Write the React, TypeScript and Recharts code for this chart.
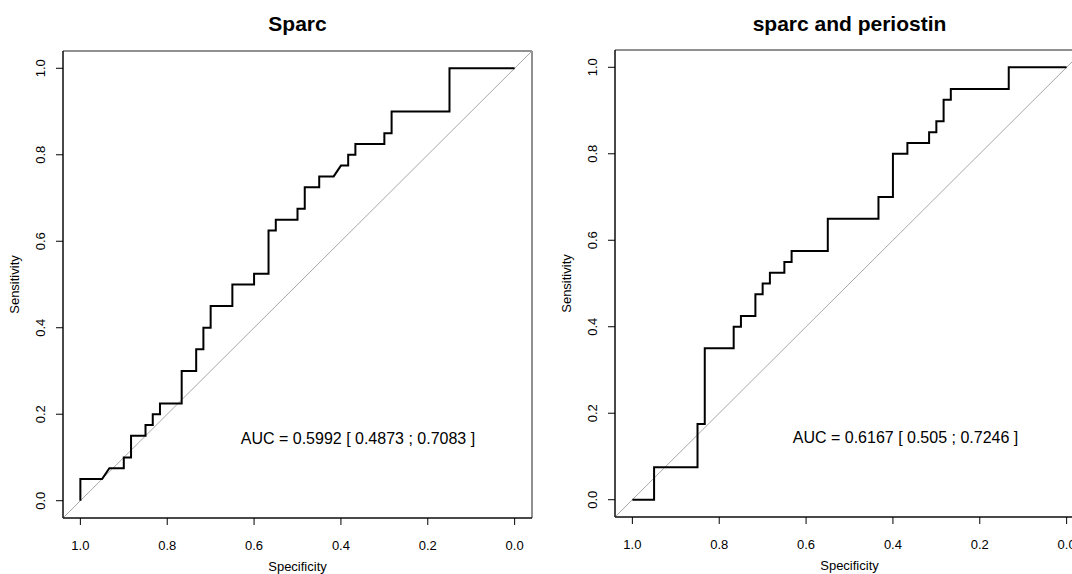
import React from "react";
import {
  LineChart,
  Line,
  XAxis,
  YAxis,
  ReferenceLine,
  ReferenceArea,
  ReferenceDot,
} from "recharts";

// ROC step points: specificity (x, reversed) and sensitivity (y)
const sparcSpec = [1, 1, 0.95, 0.9333, 0.9, 0.9, 0.8833, 0.8833, 0.85, 0.85, 0.8333, 0.8333, 0.8167, 0.8167, 0.7667, 0.7667, 0.7333, 0.7333, 0.7167, 0.7167, 0.7, 0.7, 0.65, 0.65, 0.6, 0.6, 0.5667, 0.5667, 0.55, 0.55, 0.5, 0.5, 0.4833, 0.4833, 0.45, 0.45, 0.4167, 0.4, 0.3833, 0.3833, 0.3667, 0.3667, 0.3, 0.3, 0.2833, 0.2833, 0.15, 0.15, 0];
const sparcSens = [0, 0.05, 0.05, 0.075, 0.075, 0.1, 0.1, 0.15, 0.15, 0.175, 0.175, 0.2, 0.2, 0.225, 0.225, 0.3, 0.3, 0.35, 0.35, 0.4, 0.4, 0.45, 0.45, 0.5, 0.5, 0.525, 0.525, 0.625, 0.625, 0.65, 0.65, 0.675, 0.675, 0.725, 0.725, 0.75, 0.75, 0.775, 0.775, 0.8, 0.8, 0.825, 0.825, 0.85, 0.85, 0.9, 0.9, 1, 1];

const bothSpec = [1, 0.95, 0.95, 0.85, 0.85, 0.8333, 0.8333, 0.7667, 0.7667, 0.75, 0.75, 0.7167, 0.7167, 0.7, 0.7, 0.6833, 0.6833, 0.65, 0.65, 0.6333, 0.6333, 0.55, 0.55, 0.4333, 0.4333, 0.4, 0.4, 0.3667, 0.3667, 0.3167, 0.3167, 0.3, 0.3, 0.2833, 0.2833, 0.2667, 0.2667, 0.1333, 0.1333, 0];
const bothSens = [0, 0, 0.075, 0.075, 0.175, 0.175, 0.35, 0.35, 0.4, 0.4, 0.425, 0.425, 0.475, 0.475, 0.5, 0.5, 0.525, 0.525, 0.55, 0.55, 0.575, 0.575, 0.65, 0.65, 0.7, 0.7, 0.8, 0.8, 0.825, 0.825, 0.85, 0.85, 0.875, 0.875, 0.925, 0.925, 0.95, 0.95, 1, 1];

const TICKS = [0, 0.2, 0.4, 0.6, 0.8, 1];
const TITLES = ["Sparc", "sparc and periostin"];
const AUC_TEXT = [
  "AUC = 0.5992 [ 0.4873 ; 0.7083 ]",
  "AUC = 0.6167 [ 0.505 ; 0.7246 ]",
];

const FONT = '"Liberation Sans", Arial, Helvetica, sans-serif';
const DOMAIN: [number, number] = [-0.04, 1.04];

const toRows = (spec: number[], sens: number[]) =>
  spec.map((s, i) => ({ spec: s, sens: sens[i] }));

function YTick(props: any) {
  const { x, y, payload } = props;
  const tx = x - 11;
  return (
    <text
      x={tx}
      y={y}
      transform={`rotate(-90 ${tx} ${y})`}
      textAnchor="middle"
      fontSize={13}
      fontFamily={FONT}
      fill="#000"
    >
      {Number(payload.value).toFixed(1)}
    </text>
  );
}

function RocPanel({
  spec,
  sens,
  title,
  auc,
  left,
  top,
}: {
  spec: number[];
  sens: number[];
  title: string;
  auc: string;
  left: number;
  top: number;
}) {
  const data = toRows(spec, sens);
  return (
    <div style={{ position: "absolute", left, top: 0, width: 560, height: 574 }}>
      <div
        style={{
          position: "absolute",
          left: 63,
          width: 469,
          top: 12,
          lineHeight: "24px",
          textAlign: "center",
          fontFamily: FONT,
          fontWeight: "bold",
          fontSize: 21,
          color: "#000",
        }}
      >
        {title}
      </div>
      <LineChart
        width={560}
        height={574}
        data={data}
        margin={{ top: top, right: 28, left: 0, bottom: 1 - (top - 50) }}
        style={{ position: "absolute", left: 0, top: 0 }}
      >
        <XAxis
          dataKey="spec"
          type="number"
          domain={DOMAIN}
          reversed
          ticks={TICKS}
          allowDataOverflow
          height={56}
          tickSize={7}
          tickMargin={16}
          tickFormatter={(v: number) => v.toFixed(1)}
          tick={{ fontSize: 13, fontFamily: FONT, fill: "#000" }}
          axisLine={{ stroke: "#000" }}
          tickLine={{ stroke: "#000" }}
          label={{
            value: "Specificity",
            position: "insideBottom",
            offset: 3,
            fontSize: 13,
            fontFamily: FONT,
            fill: "#000",
          }}
        />
        <YAxis
          dataKey="sens"
          type="number"
          domain={DOMAIN}
          ticks={TICKS}
          allowDataOverflow
          width={63}
          tickSize={7}
          tickMargin={0}
          tick={<YTick />}
          axisLine={{ stroke: "#000" }}
          tickLine={{ stroke: "#000" }}
          label={{
            content: (p: any) => {
              const vb = p.viewBox || {};
              const cx = (vb.x || 0) + 19;
              const cy = (vb.y || 0) + (vb.height || 0) / 2;
              return (
                <text
                  x={cx}
                  y={cy}
                  transform={`rotate(-90 ${cx} ${cy})`}
                  textAnchor="middle"
                  fontSize={13}
                  fontFamily={FONT}
                  fill="#000"
                >
                  Sensitivity
                </text>
              );
            },
          }}
        />
        <ReferenceArea
          x1={DOMAIN[0]}
          x2={DOMAIN[1]}
          y1={DOMAIN[0]}
          y2={DOMAIN[1]}
          fill="none"
          stroke="#222"
          strokeWidth={1}
        />
        <ReferenceLine
          segment={[
            { x: DOMAIN[1], y: DOMAIN[0] },
            { x: DOMAIN[0], y: DOMAIN[1] },
          ]}
          stroke="#a8a8a8"
          strokeWidth={1}
        />
        <Line
          dataKey="sens"
          type="linear"
          stroke="#000"
          strokeWidth={2}
          dot={false}
          activeDot={false}
          isAnimationActive={false}
        />
        <ReferenceDot
          x={0.633}
          y={0.145}
          r={1}
          fill="none"
          stroke="none"
          label={{
            value: auc,
            position: "right",
            offset: 0,
            fontSize: 16,
            fontFamily: FONT,
            fill: "#000",
          }}
        />
      </LineChart>
    </div>
  );
}

export default function App() {
  return (
    <div
      style={{
        position: "absolute",
        left: 0,
        top: 0,
        width: 1072,
        height: 574,
        overflow: "hidden",
        background: "#fff",
      }}
    >
      <RocPanel
        spec={sparcSpec}
        sens={sparcSens}
        title={TITLES[0]}
        auc={AUC_TEXT[0]}
        left={0}
        top={51}
      />
      <RocPanel
        spec={bothSpec}
        sens={bothSens}
        title={TITLES[1]}
        auc={AUC_TEXT[1]}
        left={552}
        top={50}
      />
    </div>
  );
}
